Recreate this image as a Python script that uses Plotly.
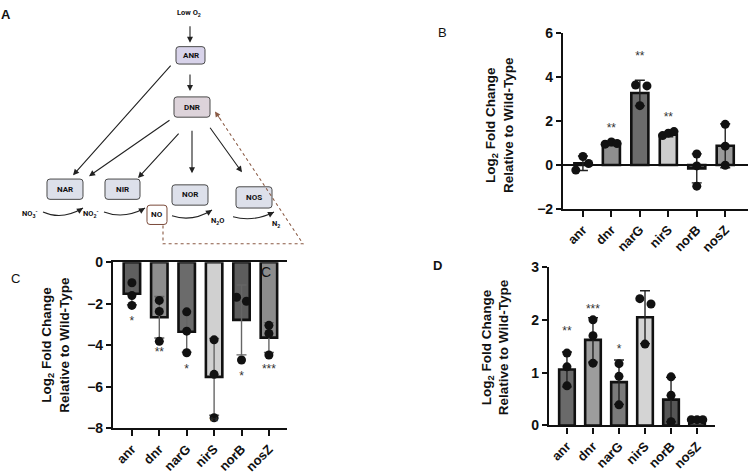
import plotly.graph_objects as go

W, H = 748, 476
FONT = "Arial, Liberation Sans, sans-serif"

genes = ["anr", "dnr", "narG", "nirS", "norB", "nosZ"]

# ---------------- Panel B ----------------
b_mean = [0.08, 0.95, 3.28, 1.38, -0.15, 0.88]
b_sd = [0.33, 0.06, 0.58, 0.09, 0.66, 1.0]
b_pts = [[-0.23, 0.39, 0.07], [0.95, 1.05, 0.98], [3.64, 2.70, 3.60],
         [1.34, 1.45, 1.52], [0.50, -0.04, -0.96], [1.85, 0.86, -0.01]]
b_sig = ["", "**", "**", "**", "", ""]
b_sig_y = [None, 1.63, 4.9, 2.15, None, None]
b_colors = ["#6a6a6a", "#8f8f8f", "#6c6c6c", "#cdcdcd", "#5c5c5c", "#9a9a9a"]
b_jit = [[-0.25, 0, 0.2], [-0.22, 0, 0.2], [-0.15, 0, 0.25],
         [-0.2, 0, 0.2], [0, 0, 0], [0, 0, 0]]

# ---------------- Panel C ----------------
c_mean = [-1.52, -2.65, -3.35, -5.52, -2.78, -3.63]
c_sd = [0.53, 1.0, 0.98, 1.85, 1.68, 0.72]
c_pts = [[-0.99, -1.61, -2.08], [-1.84, -2.37, -3.81], [-2.39, -3.32, -4.36],
         [-3.74, -5.40, -7.49], [-1.69, -1.88, -4.71], [-3.04, -3.43, -4.47]]
c_sig = ["*", "**", "*", "**", "*", "***"]
c_sig_y = [-2.88, -4.36, -5.21, -7.72, -5.52, -5.18]
c_colors = ["#5f5f5f", "#8e8e8e", "#6b6b6b", "#d0d0d0", "#5d5d5d", "#8c8c8c"]
c_jit = [[0, 0, 0], [0, 0, 0], [0, 0, 0], [0, 0, 0], [-0.18, 0.18, 0], [0, 0, 0]]

# ---------------- Panel D ----------------
d_mean = [1.06, 1.62, 0.82, 2.05, 0.49, 0.07]
d_sd = [0.33, 0.42, 0.42, 0.5, 0.42, 0.02]
d_pts = [[1.37, 1.11, 0.75], [2.0, 1.70, 1.18], [1.17, 0.93, 0.39],
         [2.40, 2.30, 1.54], [0.92, 0.57, 0.07], [0.11, 0.11, 0.11]]
d_sig = ["**", "***", "*", "*", "", ""]
d_sig_y = [1.76, 2.18, 1.42, 3.04, None, None]
d_colors = ["#6a6a6a", "#9d9d9d", "#7a7a7a", "#d4d4d4", "#555555", "#b5b5b5"]
d_jit = [[0, 0, 0], [0, 0, 0], [0, 0, 0], [-0.2, 0.23, 0], [0, 0, 0], [-0.22, 0, 0.22]]


def X(px):
    return px / W


def Y(py):
    return 1 - py / H


fig = go.Figure()

panels = [
    ("x", "y", b_mean, b_sd, b_pts, b_sig, b_sig_y, b_colors, b_jit, "#222"),
    ("x2", "y2", c_mean, c_sd, c_pts, c_sig, c_sig_y, c_colors, c_jit, "#666"),
    ("x3", "y3", d_mean, d_sd, d_pts, d_sig, d_sig_y, d_colors, d_jit, "#222"),
]

for xa, ya, mean, sd, pts, sig, sig_y, cols, jit, ecol in panels:
    idx = list(range(len(genes)))
    fig.add_trace(go.Bar(
        x=idx, y=mean, width=0.6, xaxis=xa, yaxis=ya,
        marker=dict(color=cols, line=dict(color="#111", width=2.6)),
        error_y=dict(type="data", array=sd, color=ecol, thickness=1.4, width=5),
        showlegend=False, hoverinfo="skip"))
    px_, py_ = [], []
    for i, (p, o) in enumerate(zip(pts, jit)):
        for v, off in zip(p, o):
            px_.append(i + off)
            py_.append(v)
    fig.add_trace(go.Scatter(
        x=px_, y=py_, mode="markers", xaxis=xa, yaxis=ya, cliponaxis=False,
        marker=dict(color="#111", size=9), showlegend=False, hoverinfo="skip"))
    sx = [i for i, s in enumerate(sig) if s]
    sy = [sig_y[i] for i in sx]
    st = [sig[i] for i in sx]
    fig.add_trace(go.Scatter(
        x=sx, y=sy, text=st, mode="text", xaxis=xa, yaxis=ya, cliponaxis=False,
        textposition="middle center",
        textfont=dict(family=FONT, size=12, color="#333"),
        showlegend=False, hoverinfo="skip"))

axis_common = dict(showgrid=False, showline=True, linecolor="#111", linewidth=2.2,
                   ticks="outside", tickcolor="#111", tickwidth=2, ticklen=5,
                   tickfont=dict(family=FONT, size=14, color="#111", weight="bold"))

xcommon = dict(axis_common, tickmode="array", tickvals=list(range(6)), ticktext=genes,
               tickangle=-45, zeroline=False, ticklen=6,
               tickfont=dict(family=FONT, size=13, color="#111", weight="bold"))

fig.update_layout(
    width=W, height=H, margin=dict(l=0, r=0, t=0, b=0),
    paper_bgcolor="white", plot_bgcolor="white",
    xaxis=dict(xcommon, domain=[X(563), 1.0], range=[-0.7, 5.8], anchor="y"),
    yaxis=dict(axis_common, domain=[Y(208), Y(26)], range=[-2, 6], dtick=2,
               zeroline=True, zerolinecolor="#111", zerolinewidth=2.4, anchor="x"),
    xaxis2=dict(xcommon, domain=[X(113), X(287)], range=[-0.69, 5.66], anchor="y2",
                mirror=True),
    yaxis2=dict(axis_common, domain=[Y(435), Y(263)], range=[-8, 0], dtick=2,
                zeroline=False, anchor="x2"),
    xaxis3=dict(xcommon, domain=[X(549), X(715)], range=[-0.69, 5.69], anchor="y3"),
    yaxis3=dict(axis_common, domain=[Y(432), Y(268)], range=[0, 3], dtick=1,
                zeroline=False, anchor="x3"),
)

annotations = []
shapes = []


def label(txt, cx, cy, size, family=FONT, color="#111", angle=0):
    annotations.append(dict(x=X(cx), y=Y(cy), xref="paper", yref="paper", text=txt,
                            textangle=angle, showarrow=False, xanchor="center", yanchor="middle",
                            font=dict(family=family, size=size, color=color)))


# y-axis titles
ytitle = "<b>Log<sub>2</sub> Fold Change<br>Relative to Wild-Type</b>"
for cx, cy in [(500, 121), (55.5, 349), (495, 351)]:
    label(ytitle, cx, cy, 13.5, angle=-90)

# panel letters
for txt, cx, cy, bold in [("A", 6, 7, True), ("B", 442, 25.5, False),
                          ("C", 16, 280, False), ("D", 437, 266, True)]:
    label(("<b>%s</b>" % txt) if bold else txt, cx, cy, 13)
# stray "C" inside panel C
label("C", 266, 273, 14)

# ---------------- Panel A diagram ----------------
DFONT = "Roboto, sans-serif"


def rrect(x0, y0, x1, y1, r=3):
    P = lambda a, b: "%.5f,%.5f" % (X(a), Y(b))
    return ("M" + P(x0 + r, y0) + " L" + P(x1 - r, y0) + " Q" + P(x1, y0) + " " + P(x1, y0 + r) +
            " L" + P(x1, y1 - r) + " Q" + P(x1, y1) + " " + P(x1 - r, y1) +
            " L" + P(x0 + r, y1) + " Q" + P(x0, y1) + " " + P(x0, y1 - r) +
            " L" + P(x0, y0 + r) + " Q" + P(x0, y0) + " " + P(x0 + r, y0) + " Z")


boxes = [("ANR", 176, 40, 205, 58, "#d8d3ea", "#4a4a4a"),
         ("DNR", 174, 92, 210, 113, "#ddd3da", "#4a4a4a"),
         ("NAR", 47, 177, 83, 198, "#dde0ea", "#4a4a4a"),
         ("NIR", 105, 177, 140, 198, "#dde0ea", "#4a4a4a"),
         ("NOR", 172, 183, 208, 204, "#dde0ea", "#4a4a4a"),
         ("NOS", 236, 185, 272, 207, "#dde0ea", "#4a4a4a"),
         ("NO", 147, 204, 167, 224, "#ffffff", "#7a4a3a")]
for name, x0, y0, x1, y1, fc, lc in boxes:
    shapes.append(dict(type="path", path=rrect(x0, y0, x1, y1), xref="paper", yref="paper",
                       fillcolor=fc, line=dict(color=lc, width=1)))
    label("<b>%s</b>" % name, (x0 + x1) / 2, (y0 + y1) / 2, 8, family=DFONT)


def arrow(tx, ty, hx, hy, color="#222", width=1.1):
    annotations.append(dict(x=X(hx), y=Y(hy), xref="paper", yref="paper", text="",
                            showarrow=True, ax=tx - hx, ay=ty - hy, axref="pixel", ayref="pixel",
                            arrowhead=2, arrowsize=1.1, arrowwidth=width, arrowcolor=color))


arrow(190, 18, 190, 36)
arrow(190, 68, 190, 86)
arrow(172, 62, 73, 173)
arrow(171, 117, 89, 174)
arrow(180, 130, 138, 176)
arrow(192, 127, 192, 171)
arrow(209, 124, 242, 170)

# curved reaction arrows
curves = [((43, 211), (62, 220), (83, 207)),
          ((104, 211), (124, 219), (145, 207)),
          ((172, 215), (192, 222), (212, 209)),
          ((233, 216), (253, 222), (274, 211))]
for (sx, sy), (cx, cy), (ex, ey) in curves:
    shapes.append(dict(type="path", xref="paper", yref="paper",
                       path="M%.5f,%.5f Q%.5f,%.5f %.5f,%.5f" % (X(sx), Y(sy), X(cx), Y(cy), X(ex), Y(ey)),
                       line=dict(color="#222", width=1.1)))
    dx, dy = ex - cx, ey - cy
    n = (dx * dx + dy * dy) ** 0.5
    arrow(ex - 4 * dx / n, ey - 4 * dy / n, ex, ey)

chem = [("NO<sub>3</sub><sup>-</sup>", 30, 213), ("NO<sub>2</sub><sup>-</sup>", 91, 213),
        ("N<sub>2</sub>O", 217, 220), ("N<sub>2</sub>", 276, 223), ("Low O<sub>2</sub>", 189, 5)]
for t, cx, cy in chem:
    label("<b>%s</b>" % t, cx, cy, 7.5, family=DFONT)

# dotted feedback line
shapes.append(dict(type="path", xref="paper", yref="paper",
                   path="M%.5f,%.5f L%.5f,%.5f L%.5f,%.5f L%.5f,%.5f" % (
                       X(163), Y(225), X(163), Y(244), X(303), Y(244), X(217), Y(110)),
                   line=dict(color="#8a5a44", width=1.1, dash="dot")))
arrow(221, 116, 215, 107, color="#8a5a44", width=1.0)

fig.update_layout(annotations=annotations, shapes=shapes)

fig.write_html("out.html", config={"displayModeBar": False},
               post_script="document.body.style.margin='0';")
